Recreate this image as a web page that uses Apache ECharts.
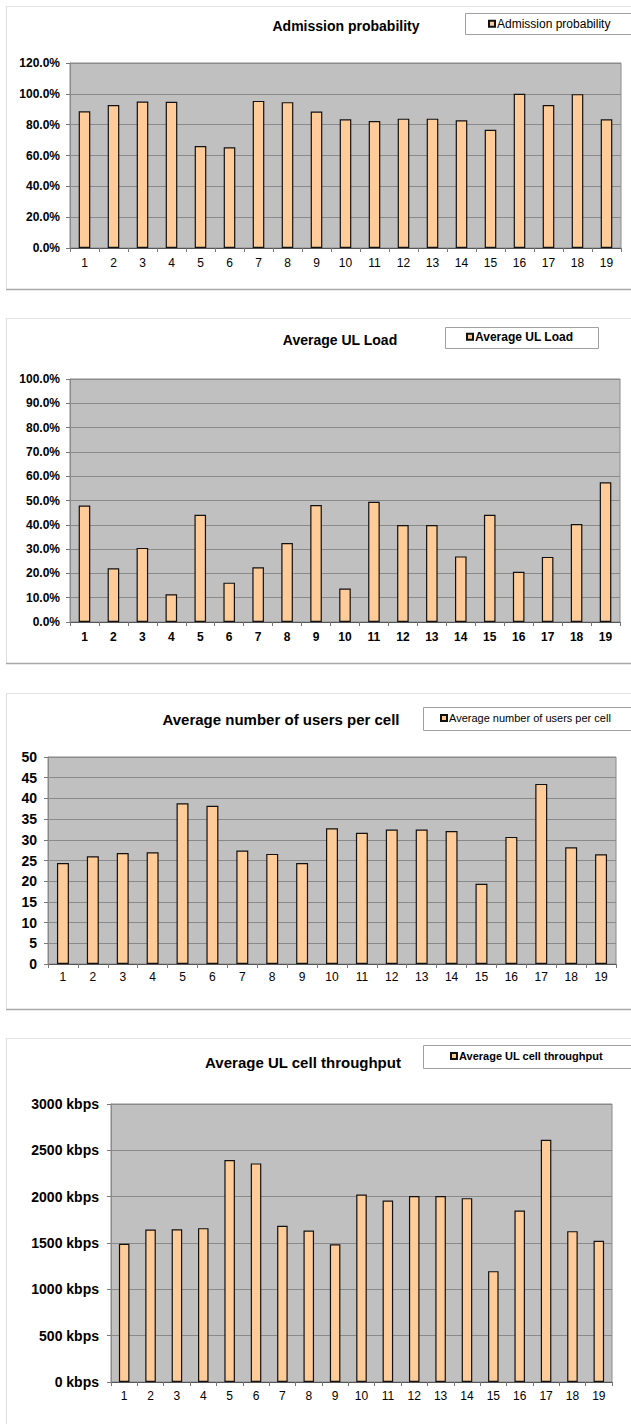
<!DOCTYPE html>
<html><head><meta charset="utf-8">
<script src="https://cdn.jsdelivr.net/npm/echarts@6/dist/echarts.min.js"></script>
<style>html,body{margin:0;padding:0;background:#fff}#c{width:631px;height:1424px}</style>
</head><body><div id="c"></div>
<script>
// ---- data ----
const categories = ['1','2','3','4','5','6','7','8','9','10','11','12','13','14','15','16','17','18','19'];
const admissionProbability = [88.7, 92.8, 95.0, 94.8, 66.1, 65.4, 95.4, 94.6, 88.5, 83.5, 82.4, 83.9, 83.9, 82.8, 76.7, 100.0, 92.8, 99.8, 83.5];
const averageULLoad = [47.9, 22.1, 30.5, 11.4, 44.1, 16.2, 22.5, 32.5, 48.1, 13.8, 49.5, 39.9, 39.9, 27.0, 44.1, 20.7, 26.8, 40.3, 57.5];
const averageUsersPerCell = [24.4, 26.0, 26.8, 27.0, 38.8, 38.2, 27.4, 26.6, 24.4, 32.8, 31.7, 32.5, 32.5, 32.1, 19.4, 30.7, 43.5, 28.2, 26.5];
const averageULThroughput = [1491, 1646, 1649, 1660, 2395, 2359, 1685, 1635, 1487, 2024, 1959, 2006, 2006, 1984, 1196, 1851, 2614, 1628, 1523];
const seriesNames = ['Admission probability', 'Average UL Load', 'Average number of users per cell', 'Average UL cell throughput'];
const yMax = [120, 100, 50, 3000];
const yStep = [20, 10, 5, 500];
const yLabelFormat = [v => v.toFixed(1) + '%', v => v.toFixed(1) + '%', v => String(v), v => v + ' kbps'];

// ---- layout ----
const FONT = '"Liberation Sans", Arial, sans-serif';
const grids = [
  {left: 70, top: 63, width: 551, height: 185},
  {left: 70, top: 379, width: 550, height: 243},
  {left: 48, top: 757, width: 568, height: 207},
  {left: 111, top: 1104, width: 501, height: 278}
];
const titleCfg = [
  {cx: 346, cy: 27, fs: 14},
  {cx: 340, cy: 341, fs: 14},
  {cx: 281, cy: 720, fs: 15},
  {cx: 303, cy: 1063, fs: 15}
];
const legendCfg = [
  {x: 488, cy: 25, fs: 12, bold: false, box: [465, 13, 200, 21]},
  {x: 466, cy: 338, fs: 12, bold: true, box: [445, 327, 153, 21]},
  {x: 440, cy: 719, fs: 11, bold: false, box: [423, 707, 220, 23]},
  {x: 450, cy: 1057, fs: 11, bold: true, box: [423, 1045, 220, 23]}
];
const yLabelSize = [12, 12, 14, 14];
const yLabelMargin = [10, 10, 11, 12];
const xLabelBold = [false, true, false, false];
const xLabelMargin = [9, 9, 7, 8];
const frames = [[6, 289], [318, 663], [693, 1009], [1038, 1430]];
const dataSets = [admissionProbability, averageULLoad, averageUsersPerCell, averageULThroughput];

const chart = echarts.init(document.getElementById('c'), null, {renderer: 'svg'});

const graphic = [];
frames.forEach(([t, b]) => {
  graphic.push({type: 'line', silent: true, shape: {x1: 6.5, y1: t, x2: 6.5, y2: b}, style: {stroke: '#dddddd', lineWidth: 1}});
  graphic.push({type: 'line', silent: true, shape: {x1: 6, y1: t + 0.5, x2: 640, y2: t + 0.5}, style: {stroke: '#e2e2e2', lineWidth: 1}});
  graphic.push({type: 'line', silent: true, shape: {x1: 6, y1: b + 0.5, x2: 640, y2: b + 0.5}, style: {stroke: '#a8a8a8', lineWidth: 1.5}});
});
legendCfg.forEach(l => {
  const [x, y, w, h] = l.box;
  graphic.push({type: 'rect', silent: true, z: 0, shape: {x: x + 0.5, y: y + 0.5, width: w, height: h}, style: {fill: '#fff', stroke: '#a0a0a0', lineWidth: 1}});
});

const option = {
  animation: false,
  backgroundColor: '#fff',
  textStyle: {fontFamily: FONT},
  graphic: graphic,
  title: titleCfg.map((t, i) => ({
    text: seriesNames[i], left: t.cx, top: t.cy - t.fs / 2 - 1, textAlign: 'center', padding: 0,
    textStyle: {fontSize: t.fs, fontWeight: 'bold', color: '#000', fontFamily: FONT}
  })),
  legend: legendCfg.map((l, i) => ({
    data: [seriesNames[i]], left: l.x, top: l.cy - l.fs * 0.6, padding: 0, icon: 'rect',
    itemWidth: 6, itemHeight: 6, selectedMode: false, z: 5,
    textStyle: {fontSize: l.fs, fontWeight: l.bold ? 'bold' : 'normal', color: '#000', fontFamily: FONT, padding: [0, 0, 0, -3]}
  })),
  grid: grids.map(g => Object.assign({show: true, backgroundColor: '#c0c0c0', borderColor: '#8a8a8a', borderWidth: 1, containLabel: false}, g)),
  xAxis: grids.map((g, i) => ({
    type: 'category', gridIndex: i, data: categories,
    axisLine: {show: true, lineStyle: {color: '#555', width: 1}},
    axisTick: {show: true, length: 4, lineStyle: {color: '#777'}},
    axisLabel: {fontSize: 12, fontWeight: xLabelBold[i] ? 'bold' : 'normal', color: '#000', margin: xLabelMargin[i], fontFamily: FONT, interval: 0},
    splitLine: {show: false}
  })),
  yAxis: grids.map((g, i) => ({
    type: 'value', gridIndex: i, min: 0, max: yMax[i], interval: yStep[i],
    axisLine: {show: true, lineStyle: {color: '#8a8a8a', width: 1}},
    axisTick: {show: true, length: 4, lineStyle: {color: '#777'}},
    axisLabel: {fontSize: yLabelSize[i], fontWeight: 'bold', color: '#000', margin: yLabelMargin[i], fontFamily: FONT, formatter: yLabelFormat[i]},
    splitLine: {show: true, lineStyle: {color: '#8a8a8a', width: 1}}
  })),
  series: dataSets.map((d, i) => ({
    type: 'bar', name: seriesNames[i], xAxisIndex: i, yAxisIndex: i, data: d, barWidth: '40%',
    itemStyle: {color: '#ffcc99', borderColor: '#111', borderWidth: 1.2}
  }))
};
chart.setOption(option);
</script>
</body></html>
